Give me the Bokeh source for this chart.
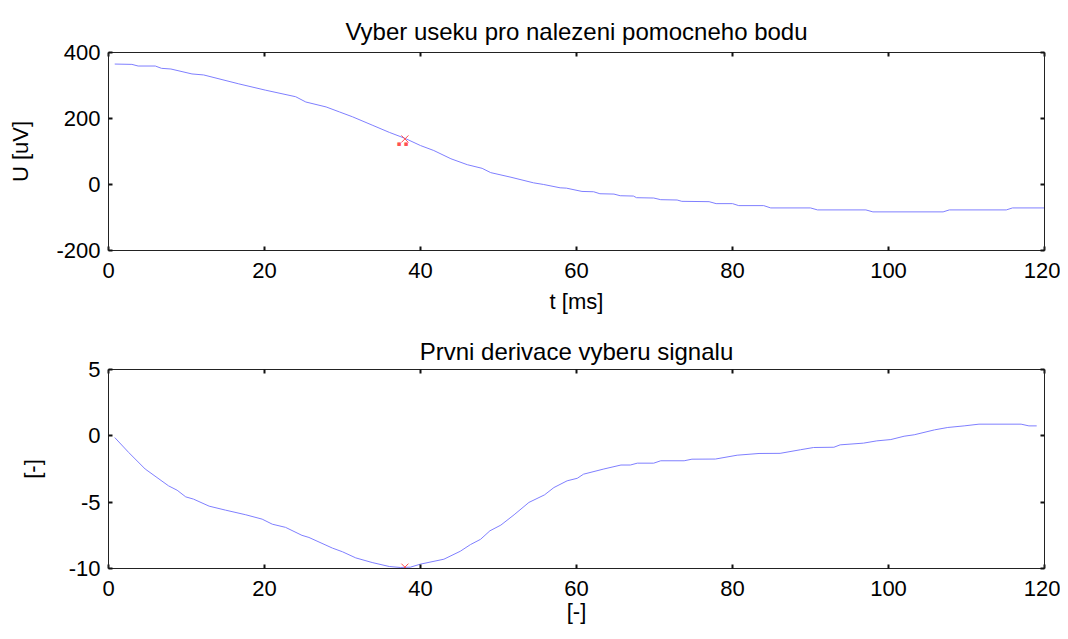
from bokeh.plotting import figure
from bokeh.layouts import column
from bokeh.models import Range1d, FixedTicker, LinearAxis, CustomLabelingPolicy
from bokeh.core.properties import value
from bokeh.embed import file_html
from bokeh.resources import INLINE

# ---- data ----
t_sig = [0.8, 3, 3.8, 6, 6.8, 8, 10.7, 12.2, 16.7, 20.1, 24, 25.3, 27.9, 29.6, 31.3, 33.8,
         36, 38, 40, 41.7, 43.9, 46, 47.9, 49, 51.6, 54.5, 55.8, 57.9, 58.7, 60.7, 62.2,
         63, 64.8, 65.6, 67.3, 67.7, 69.9, 70.8, 72.9, 73.5, 77, 77.9, 80, 80.8, 84,
         84.9, 90, 90.9, 97.1, 98, 107, 107.8, 115.1, 115.9, 120]
u_sig = [365, 364, 359, 359, 352, 350, 335, 332, 305, 286, 266, 250, 235, 220, 205, 180,
         158, 140, 118, 103, 78, 60, 49, 36, 22, 5, 0, -10, -11, -21, -22,
         -28, -29, -34, -35, -40, -41, -46, -47, -51, -52, -58, -58, -64, -64,
         -71, -71, -77, -77, -83, -83, -77, -77, -71, -71]

t_der = [0.8, 2.6, 4.7, 7.7, 8.8, 9.9, 10.9, 12.9, 15, 17.6, 19.7, 21, 22.7, 24.8, 25.7,
         28.7, 30, 31.7, 33.8, 36, 37.4, 38.7, 40, 43, 45.1, 46.4, 47.7, 48.9, 50.3, 52,
         53.9, 55.9, 57.1, 58.8, 60.1, 60.9, 63.5, 65.7, 66.9, 67.8, 69.9, 70.8, 73.8,
         74.8, 77.8, 80.6, 83.4, 86.1, 88.7, 90.4, 93, 93.8, 96.8, 98.5, 100.3, 102,
         103.3, 105.9, 107.6, 109.7, 111.6, 117, 118, 119]
d_der = [-0.13, -1.26, -2.5, -3.77, -4.1, -4.6, -4.77, -5.3, -5.6, -5.95, -6.28, -6.66,
         -6.9, -7.5, -7.66, -8.46, -8.74, -9.2, -9.55, -9.85, -9.92, -9.9, -9.67, -9.3,
         -8.7, -8.2, -7.8, -7.16, -6.73, -5.95, -5.02, -4.45, -3.9, -3.39, -3.2, -2.89,
         -2.5, -2.2, -2.2, -2.06, -2.06, -1.88, -1.88, -1.76, -1.75, -1.46, -1.33, -1.32,
         -1.05, -0.88, -0.86, -0.68, -0.55, -0.38, -0.28, -0.03, 0.08, 0.45, 0.63, 0.75,
         0.88, 0.88, 0.75, 0.75]

pt_t = [38]
pt_u = [138]
pt_d = [-9.9]

x_ticks = [0, 20, 40, 60, 80, 100, 120]
y_ticks_sig = [-200, 0, 200, 400]
y_ticks_der = [-10, -5, 0, 5]

FONT = "Liberation Sans"
FS = "22px"
TFS = "24px"
LINE = "#7f7fff"
RED = "#ff5050"
AX = "#222222"

HIDE = CustomLabelingPolicy(code="""
const all = [...indices];
for (const i of all) { indices.unset(i) }
return indices
""")


def labels(ticks):
    return {t: str(t) for t in ticks}


def style_axis(ax, ticks, show_labels):
    ax.ticker = FixedTicker(ticks=ticks)
    ax.axis_line_color = AX
    ax.major_tick_in = 4
    ax.major_tick_out = 0
    ax.major_tick_line_width = 2
    ax.major_tick_line_color = "#111111"
    ax.minor_tick_line_color = None
    ax.major_label_text_font = FONT
    ax.major_label_text_color = "black"
    ax.axis_label_text_font = FONT
    ax.axis_label_text_font_style = "normal"
    ax.axis_label_text_font_size = FS
    ax.axis_label_text_color = "black"
    if show_labels:
        ax.major_label_text_font_size = FS
        ax.major_label_overrides = labels(ticks)
    else:
        ax.major_label_text_font_size = "0px"
        ax.major_label_policy = HIDE
        ax.major_label_standoff = 0


def make_fig(title, ylo, yhi, yt, xlabel, ylabel, h, top, bottom, ylab_standoff,
             xlab_standoff, title_standoff):
    p = figure(width=1060, height=h, output_backend="svg", toolbar_location=None,
               x_range=Range1d(0, 120), y_range=Range1d(ylo, yhi),
               min_border_left=108, min_border_right=16,
               min_border_top=top, min_border_bottom=bottom)
    p.title.text = title
    p.title.text_font = FONT
    p.title.text_font_size = TFS
    p.title.text_font_style = "normal"
    p.title.align = "center"
    p.title.text_color = "black"
    p.title.standoff = title_standoff
    p.grid.visible = False
    p.outline_line_color = None
    p.background_fill_color = "white"
    p.border_fill_color = "white"
    p.xaxis.axis_label = xlabel
    p.yaxis.axis_label = ylabel
    p.xaxis.major_label_standoff = 12
    p.yaxis.major_label_standoff = 8
    p.xaxis.axis_label_standoff = xlab_standoff
    p.yaxis.axis_label_standoff = ylab_standoff
    style_axis(p.xaxis[0], x_ticks, True)
    style_axis(p.yaxis[0], yt, True)
    ax_top = LinearAxis()
    ax_right = LinearAxis()
    style_axis(ax_top, x_ticks, False)
    style_axis(ax_right, yt, False)
    p.add_layout(ax_top, "above")
    p.add_layout(ax_right, "right")
    return p


p1 = make_fig("Vyber useku pro nalezeni pomocneho bodu", -200, 400, y_ticks_sig,
              "t [ms]", "U [uV]", 328, 52, 78, 20, 8, 16)
p1.line(t_sig, u_sig, line_color=LINE, line_width=1)
p1.scatter(pt_t, pt_u, marker="x", size=10, line_color=RED, line_width=1)
p1.text(pt_t, pt_u, text=["▪   ▪"], text_font=value("DejaVu Sans"), text_font_size="7px",
        text_color=RED, text_align="center", text_baseline="middle", y_offset=5)

p2 = make_fig("Prvni derivace vyberu signalu", -10, 5, y_ticks_der,
              "[-]", "[-]", 303, 41, 63, 21, 0, 10)
p2.line(t_der, d_der, line_color=LINE, line_width=1)
p2.scatter(pt_t, pt_d, marker="x", size=10, line_color=RED, line_width=1)
p2.text(pt_t, pt_d, text=["▪   ▪"], text_font=value("DejaVu Sans"), text_font_size="7px",
        text_color=RED, text_align="center", text_baseline="middle", y_offset=4)

layout = column(p1, p2, spacing=0)
open("out.html", "w").write(file_html(layout, INLINE))
